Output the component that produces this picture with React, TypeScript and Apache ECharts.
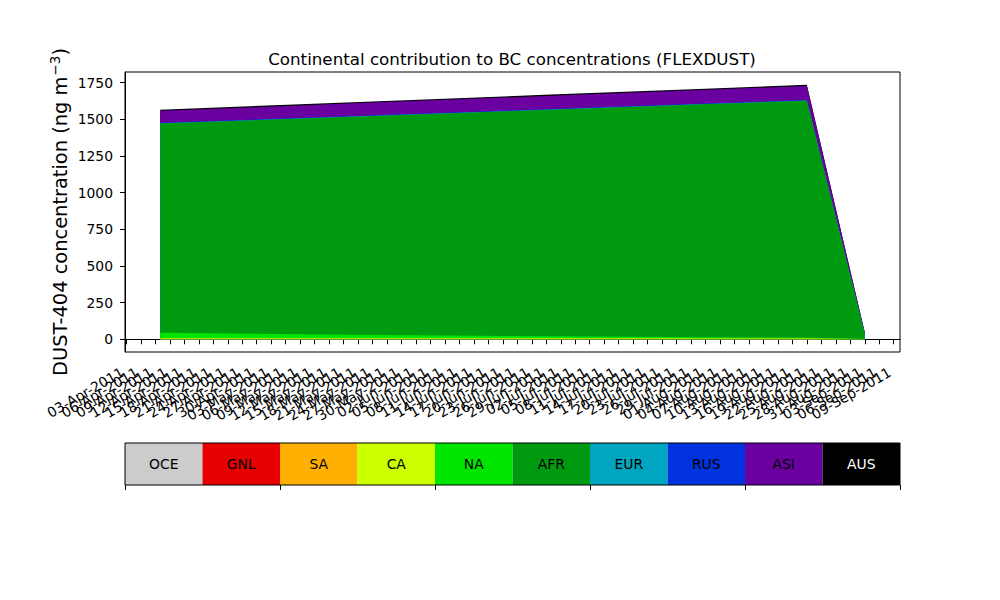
import React, { useEffect, useRef } from "react";
import * as echarts from "echarts";

const regions = ["OCE", "GNL", "SA", "CA", "NA", "AFR", "EUR", "RUS", "ASI", "AUS"];
const regionColors = ["#cccccc", "#e60000", "#ffb000", "#ccff00", "#00e600", "#009a10", "#00a6bf", "#0033dd", "#6a00a0", "#000000"];

const dates = ["2011-04-10", "2011-05-20", "2011-06-30", "2011-08-01", "2011-08-22", "2011-09-03"];
const OCE = [0, 0, 0, 0, 0, 0];
const GNL = [0, 0, 0, 0, 0, 0];
const SA = [3, 3, 3, 3, 3, 1];
const CA = [4, 4, 4, 3, 3, 1];
const NA = [38, 24, 13, 7, 5, 2];
const AFR = [1425, 1486, 1544, 1589, 1615, 30];
const EUR = [2, 2, 2, 2, 2, 1];
const RUS = [3, 3, 3, 3, 3, 1];
const ASI = [82, 86, 91, 93, 96, 8];
const AUS = [8, 8, 8, 8, 8, 4];
const seriesValues = [OCE, GNL, SA, CA, NA, AFR, EUR, RUS, ASI, AUS];

const xTickLabels = [
  "03-Apr-2011", "06-Apr-2011", "09-Apr-2011", "12-Apr-2011", "15-Apr-2011", "18-Apr-2011", "21-Apr-2011", "24-Apr-2011", "27-Apr-2011", "30-Apr-2011",
  "03-May-2011", "06-May-2011", "09-May-2011", "12-May-2011", "15-May-2011", "18-May-2011", "21-May-2011", "24-May-2011", "27-May-2011", "30-May-2011",
  "02-Jun-2011", "05-Jun-2011", "08-Jun-2011", "11-Jun-2011", "14-Jun-2011", "17-Jun-2011", "20-Jun-2011", "23-Jun-2011", "26-Jun-2011", "29-Jun-2011",
  "02-Jul-2011", "05-Jul-2011", "08-Jul-2011", "11-Jul-2011", "14-Jul-2011", "17-Jul-2011", "20-Jul-2011", "23-Jul-2011", "26-Jul-2011", "29-Jul-2011",
  "01-Aug-2011", "04-Aug-2011", "07-Aug-2011", "10-Aug-2011", "13-Aug-2011", "16-Aug-2011", "19-Aug-2011", "22-Aug-2011", "25-Aug-2011", "28-Aug-2011", "31-Aug-2011",
  "03-Sep-2011", "06-Sep-2011", "09-Sep-2011",
];
const yTickValues = [0, 250, 500, 750, 1000, 1250, 1500, 1750];

const MONTHS: Record<string, number> = { Jan: 0, Feb: 1, Mar: 2, Apr: 3, May: 4, Jun: 5, Jul: 6, Aug: 7, Sep: 8, Oct: 9, Nov: 10, Dec: 11 };
const parseLabel = (s: string) => {
  const [d, m, y] = s.split("-");
  return Date.UTC(+y, MONTHS[m], +d);
};
const parseIso = (s: string) => {
  const [y, m, d] = s.split("-");
  return Date.UTC(+y, +m - 1, +d);
};

const FONT = "DejaVu Sans";

export default function App() {
  const ref = useRef<HTMLDivElement>(null);
  useEffect(() => {
    document.body.style.margin = "0";
    if (!ref.current) return;
    const chart = echarts.init(ref.current, null, { renderer: "svg" });

    const times = dates.map(parseIso);
    const t0 = times[0];
    const t1 = times[times.length - 1];
    const span = t1 - t0;
    const tickTimes = xTickLabels.map(parseLabel);

    // cumulative tops of each layer (stackplot)
    const cumulative: number[][] = [];
    seriesValues.forEach((vals, i) => {
      cumulative.push(vals.map((v, j) => v + (i > 0 ? cumulative[i - 1][j] : 0)));
    });
    const totals = cumulative[cumulative.length - 1];
    const yMaxData = Math.max(...totals);
    const yMargin = yMaxData * 0.05;

    const gridLeft = 125, gridRight = 900, gridTop = 72, gridBottom = 352;

    // colour bar legend
    const barTop = 443, barH = 42;
    const cellW = (gridRight - gridLeft) / regions.length;
    const legendEls: any[] = [];
    regions.forEach((r, i) => {
      legendEls.push({
        type: "rect",
        shape: { x: gridLeft + i * cellW, y: barTop, width: cellW, height: barH },
        style: { fill: regionColors[i] },
        silent: true,
      });
      legendEls.push({
        type: "text",
        x: gridLeft + (i + 0.5) * cellW,
        y: barTop + barH / 2,
        style: {
          text: r,
          fill: i === regions.length - 1 ? "#ffffff" : "#000000",
          font: `13.9px ${FONT}`,
          align: "center",
          verticalAlign: "middle",
        },
        silent: true,
      });
    });
    legendEls.push({
      type: "rect",
      shape: { x: gridLeft, y: barTop, width: gridRight - gridLeft, height: barH },
      style: { fill: "none", stroke: "#000", lineWidth: 1 },
      silent: true,
    });
    for (let i = 0; i <= regions.length; i += 2) {
      const x = Math.round(gridLeft + i * cellW) + 0.5;
      legendEls.push({
        type: "line",
        shape: { x1: x, y1: barTop + barH, x2: x, y2: barTop + barH + 5 },
        style: { stroke: "#000", lineWidth: 1 },
        silent: true,
      });
    }

    const yLabelEl = {
      type: "text",
      x: 60,
      y: (gridTop + gridBottom) / 2,
      rotation: Math.PI / 2,
      style: {
        text: "{a|DUST-404 concentration (ng m}{s|−3}{a|)}",
        align: "center",
        verticalAlign: "middle",
        rich: {
          a: { fontSize: 19.4, fontFamily: FONT, fill: "#000" },
          s: { fontSize: 13.6, fontFamily: FONT, fill: "#000", verticalAlign: "top", padding: [0, 0, 11, 1] },
        },
      },
      silent: true,
    };

    // draw from the top layer down so that lower layers cover the upper ones
    const order = regions.map((_, i) => regions.length - 1 - i);

    const option: any = {
      animation: false,
      backgroundColor: "#ffffff",
      title: {
        text: "Continental contribution to BC concentrations (FLEXDUST)",
        left: 507,
        top: 45,
        textAlign: "center",
        textStyle: { fontSize: 16.7, fontWeight: "normal", fontFamily: FONT, color: "#000" },
      },
      grid: {
        left: gridLeft,
        top: gridTop,
        width: gridRight - gridLeft,
        height: gridBottom - gridTop,
        show: true,
        borderColor: "#000",
        borderWidth: 1,
        backgroundColor: "rgba(0,0,0,0)",
      },
      xAxis: {
        type: "value",
        min: t0 - span * 0.05,
        max: t1 + span * 0.05,
        axisLine: { show: true, lineStyle: { color: "#000", width: 1 } },
        axisTick: { show: true, length: 5, lineStyle: { color: "#000" }, customValues: tickTimes },
        axisLabel: { show: false },
        splitLine: { show: false },
      },
      yAxis: {
        type: "value",
        min: -yMargin,
        max: yMaxData + yMargin,
        axisLine: { show: true, lineStyle: { color: "#000", width: 1 } },
        axisTick: { show: true, length: 5, lineStyle: { color: "#000" }, customValues: yTickValues },
        axisLabel: {
          customValues: yTickValues,
          fontSize: 13.9,
          fontFamily: FONT,
          color: "#000",
          margin: 12,
          formatter: (v: number) => String(v),
        },
        splitLine: { show: false },
      },
      series: order.map((i) => ({
        name: regions[i],
        type: "line",
        showSymbol: false,
        lineStyle: { width: 0 },
        areaStyle: { color: regionColors[i], opacity: 1, origin: 0 },
        data: times.map((t, j) => [t, cumulative[i][j]]),
        silent: true,
      })),
      graphic: [yLabelEl, ...legendEls],
    };
    chart.setOption(option);

    // rotated date tick labels, placed through the x axis scale
    const xLabelEls = xTickLabels.map((lab, i) => {
      const px = chart.convertToPixel({ xAxisIndex: 0 }, tickTimes[i]) as number;
      return {
        type: "text",
        x: px - 4,
        y: gridBottom + 19,
        rotation: Math.PI / 6,
        style: {
          text: lab,
          font: `13.9px ${FONT}`,
          fill: "#000",
          align: "right",
          verticalAlign: "middle",
        },
        silent: true,
      };
    });
    chart.setOption({ graphic: [yLabelEl, ...legendEls, ...xLabelEls] }, { replaceMerge: ["graphic"] });
    return () => chart.dispose();
  }, []);
  return <div ref={ref} style={{ width: 1000, height: 600 }} />;
}
